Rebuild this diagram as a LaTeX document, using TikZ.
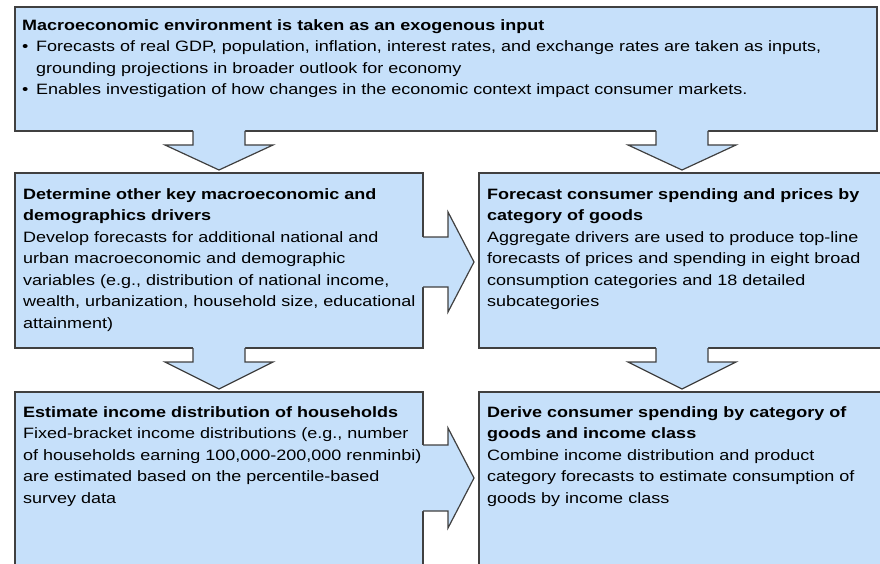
\documentclass[tikz,border=0pt]{standalone}
\usepackage{fontspec}
\setmainfont{Liberation Sans}[FakeStretch=1.2]
\usetikzlibrary{calc}

\definecolor{panelblue}{RGB}{198,224,250}
\definecolor{panelline}{RGB}{64,64,64}

\tikzset{
  panel/.style={draw=panelline, fill=panelblue, line width=1.2pt, anchor=north west, inner sep=0, outer sep=0},
  panel edge/.style={draw=panelline, line width=1.2pt},
  txt/.style={anchor=north west, inner sep=0, align=left, font=\fontsize{15}{21.5}\selectfont}
}

% fat arrow from the bottom of one panel down to the next
\newcommand{\downblock}[2]{%
  \coordinate (s) at (#1.south -| #2.north);
  \coordinate (t) at ([shift={(0,-3)}]#2.north);
  \fill[panelblue] ([shift={(-26,-6)}]s) -- ([shift={(-26,14)}]s) -- ([shift={(-54,14)}]s) -- (t)
    -- ([shift={(54,14)}]s) -- ([shift={(26,14)}]s) -- ([shift={(26,-6)}]s) -- cycle;
  \draw[panel edge] ([shift={(-26,0)}]s) -- ([shift={(-26,14)}]s) -- ([shift={(-54,14)}]s) -- (t)
    -- ([shift={(54,14)}]s) -- ([shift={(26,14)}]s) -- ([shift={(26,0)}]s);
}
% fat arrow from the right side of a panel; #3 = level of the tip, #4 = half shaft
\newcommand{\rightblock}[4]{%
  \coordinate (lvl) at (0,#3);
  \coordinate (s) at (#1.east |- lvl);
  \coordinate (t) at (#2.west |- lvl);
  \fill[panelblue] ([shift={(-6,-#4)}]s) -- ([shift={(25,-#4)}]s) -- ([shift={(25,-50)}]s) -- ([shift={(-5,0)}]t)
    -- ([shift={(25,50)}]s) -- ([shift={(25,#4)}]s) -- ([shift={(-6,#4)}]s) -- cycle;
  \draw[panel edge] ([shift={(0,-#4)}]s) -- ([shift={(25,-#4)}]s) -- ([shift={(25,-50)}]s) -- ([shift={(-5,0)}]t)
    -- ([shift={(25,50)}]s) -- ([shift={(25,#4)}]s) -- ([shift={(0,#4)}]s);
}

\begin{document}
\begin{tikzpicture}[x=1pt, y=-1pt]
\useasboundingbox (0,0) rectangle (880,564);
\clip (0,0) rectangle (880,564);

% panels
\node[panel, minimum width=862pt, minimum height=124pt] (env) at (15,7) {};
\node[panel, minimum width=408pt, minimum height=175pt] (drivers) at (15,173) {};
\node[panel, minimum width=406pt, minimum height=175pt] (spend) at (479,173) {};
\node[panel, minimum width=408pt, minimum height=190pt] (income) at (15,392) {};
\node[panel, minimum width=406pt, minimum height=190pt] (derive) at (479,392) {};

% arrows
\downblock{env}{drivers}
\downblock{env}{spend}
\downblock{drivers}{income}
\downblock{spend}{derive}
\rightblock{drivers}{spend}{262}{25}
\rightblock{income}{derive}{478}{33}

% texts
\node[txt] (envtext) at ([shift={(7,12)}]env.north west) {%
  \textbf{Macroeconomic environment is taken as an exogenous input}\\
  \makebox[14pt][l]{•}Forecasts of real GDP, population, inflation, interest rates, and exchange rates are taken as inputs,\\
  \hspace*{14pt}grounding projections in broader outlook for economy\\
  \makebox[14pt][l]{•}Enables investigation of how changes in the economic context impact consumer markets.};
\node[txt] (driverstext) at ([shift={(8,15)}]drivers.north west) {%
  \textbf{Determine other key macroeconomic and}\\
  \textbf{demographics drivers}\\
  Develop forecasts for additional national and\\
  urban macroeconomic and demographic\\
  variables (e.g., distribution of national income,\\
  wealth, urbanization, household size, educational\\
  attainment)};
\node[txt] (spendtext) at ([shift={(8,15)}]spend.north west) {%
  \textbf{Forecast consumer spending and prices by}\\
  \textbf{category of goods}\\
  Aggregate drivers are used to produce top-line\\
  forecasts of prices and spending in eight broad\\
  consumption categories and 18 detailed\\
  subcategories};
\node[txt] (incometext) at ([shift={(8,14)}]income.north west) {%
  \textbf{Estimate income distribution of households}\\
  Fixed-bracket income distributions (e.g., number\\
  of households earning 100,000-200,000 renminbi)\\
  are estimated based on the percentile-based\\
  survey data};
\node[txt] (derivetext) at ([shift={(8,14)}]derive.north west) {%
  \textbf{Derive consumer spending by category of}\\
  \textbf{goods and income class}\\
  Combine income distribution and product\\
  category forecasts to estimate consumption of\\
  goods by income class};
\end{tikzpicture}
\end{document}
